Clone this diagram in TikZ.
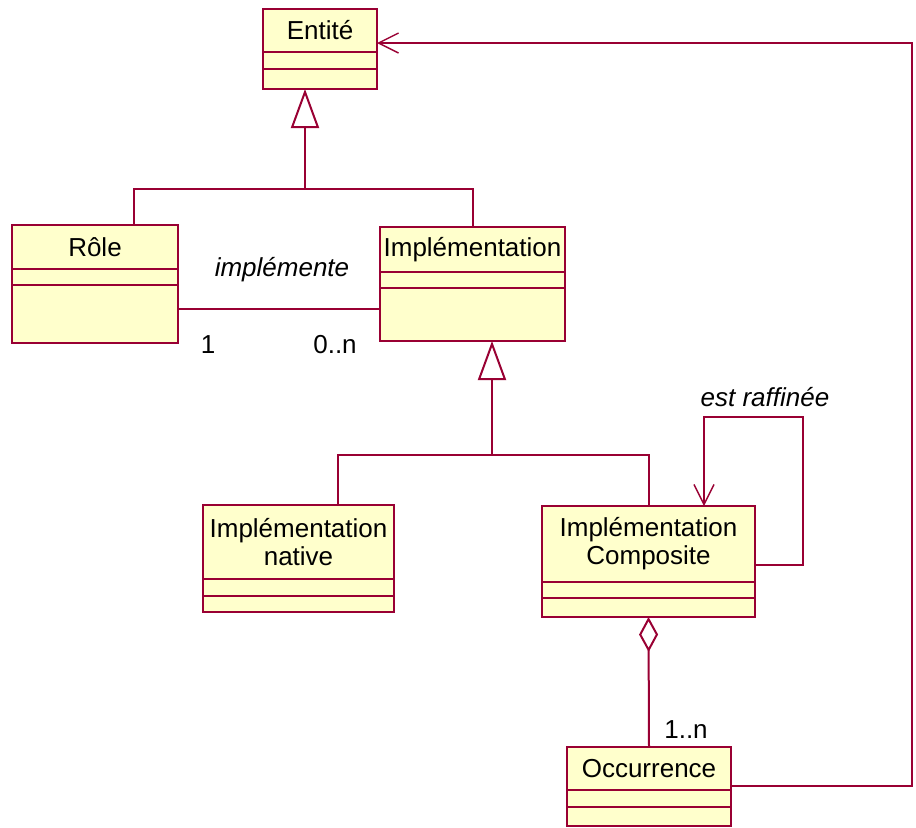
\documentclass[tikz,border=0pt]{standalone}
\usepackage{fontspec}
\setmainfont{Liberation Sans}
\usepackage{tikz}
\usetikzlibrary{positioning,calc,arrows.meta}

\definecolor{umlline}{RGB}{153,0,51}
\definecolor{umlfill}{RGB}{255,255,204}

\tikzset{
  cls/.style={draw=umlline, fill=umlfill, line width=1pt, inner sep=0pt, outer sep=0pt, align=center, font=\fontsize{13}{14}\selectfont},
  link/.style={draw=umlline, line width=1pt},
  gen/.style={-{Triangle[open, length=19.5pt, width=14pt]}},
  barb/.style={-{Straight Barb[length=10pt, width=10pt, line width=0.7pt]}},
  agg/.style={{Diamond[open, length=17.5pt, width=9.5pt]}-},
  lbl/.style={inner sep=1pt, font=\fontsize{13}{14}\selectfont},
  lbli/.style={inner sep=1pt, font=\fontsize{13}{14}\selectfont\itshape}
}

\begin{document}
\begin{tikzpicture}[x=0.5pt, y=-0.5pt]
\useasboundingbox (0,0) rectangle (916,827);

% classes
\node[cls, anchor=north west, minimum width=57pt, minimum height=21.5pt] (ent) at (263,9) {Entité};
\node[cls, below=0pt of ent, minimum width=57pt, minimum height=8.5pt] (ent1) {};
\node[cls, below=0pt of ent1, minimum width=57pt, minimum height=10pt] (ent2) {};

\node[cls, anchor=north west, minimum width=83pt, minimum height=22pt] (role) at (12,225) {Rôle};
\node[cls, below=0pt of role, minimum width=83pt, minimum height=8pt] (role1) {};
\node[cls, below=0pt of role1, minimum width=83pt, minimum height=29pt] (role2) {};

\node[cls, anchor=north west, minimum width=92.5pt, minimum height=22.5pt] (impl) at (380,227) {Implémentation};
\node[cls, below=0pt of impl, minimum width=92.5pt, minimum height=8pt] (impl1) {};
\node[cls, below=0pt of impl1, minimum width=92.5pt, minimum height=26.5pt] (impl2) {};

\node[cls, anchor=north west, minimum width=95.5pt, minimum height=37pt] (nat) at (203,505) {Implémentation\\native};
\node[cls, below=0pt of nat, minimum width=95.5pt, minimum height=8.5pt] (nat1) {};
\node[cls, below=0pt of nat1, minimum width=95.5pt, minimum height=8pt] (nat2) {};

\node[cls, anchor=north west, minimum width=106.5pt, minimum height=38pt] (comp) at (542,506) {Implémentation\\Composite};
\node[cls, below=0pt of comp, minimum width=106.5pt, minimum height=8pt] (comp1) {};
\node[cls, below=0pt of comp1, minimum width=106.5pt, minimum height=9.5pt] (comp2) {};

\node[cls, anchor=north west, minimum width=82pt, minimum height=21.5pt] (occ) at (567,747) {Occurrence};
\node[cls, below=0pt of occ, minimum width=82pt, minimum height=8.5pt] (occ1) {};
\node[cls, below=0pt of occ1, minimum width=82pt, minimum height=9.5pt] (occ2) {};

% bend points
\coordinate (g1) at (305,189);
\coordinate (g2) at (492,455);
\coordinate (asc) at (280,309);
\coordinate (lp) at (803,417);
\coordinate (rt) at (912,43);

% generalisations
\draw[link] ($(role.north west)+(122,0)$) |- (g1) -| (impl.north);
\draw[link, gen] (g1) -- (ent2.south -| g1);
\draw[link] ($(nat.north west)+(135,0)$) |- (g2) -| (comp.north);
\draw[link, gen] (g2) -- (impl2.south -| g2);

% associations
\draw[link] (role2.east |- asc) -- (impl2.west |- asc);
\node[lbli] (impl-l) at (282,270) {implémente};
\node[lbl] (m1) at (208,345) {1};
\node[lbl] (m2) at (335,345) {0..n};

\draw[link, barb] ($(comp.east)+(0,21)$) -| (lp) -| ($(comp.north west)+(162,0)$);
\node[lbli] (raf-l) at (765,397) {est raffinée};

\draw[link, agg] (comp2.south) -- (occ.north);
\node[lbl] (m3) at (686,730) {1..n};

\draw[link, barb] ($(occ.south east)+(0,-4)$) -| (rt) -- (ent.east |- rt);
\end{tikzpicture}
\end{document}
